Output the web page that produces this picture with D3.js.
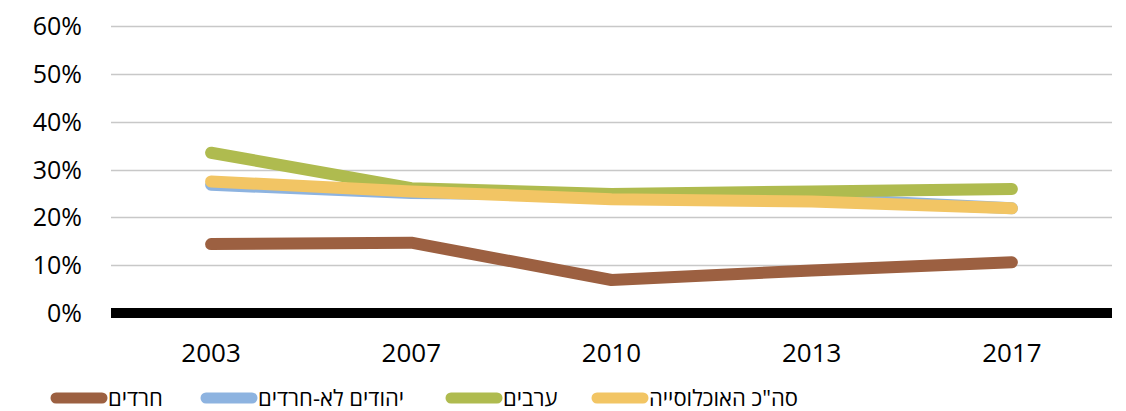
<!DOCTYPE html>
<html>
<head>
<meta charset="utf-8">
<script src="https://cdn.jsdelivr.net/npm/d3@7"></script>
<style>
  body { margin: 0; background: #fff; }
  text { font-family: "Open Sans", sans-serif; fill: #000; }
</style>
</head>
<body>
<div class="chart"></div>
<script>
// years on the x axis
const years = ["2003", "2007", "2010", "2013", "2017"];

// share per group (percent)
const haredim = [14.4, 14.7, 6.9, 8.9, 10.6];
const jewsNonHaredi = [26.8, 25.1, 24.7, 24.0, 21.9];
const arabs = [33.5, 26.1, 24.9, 25.4, 25.9];
const total = [27.5, 25.4, 23.8, 23.3, 21.9];

const seriesNames = ["חרדים", "יהודים לא-חרדים", "ערבים", "סה\"כ האוכלוסייה"];
const yTicks = [0, 10, 20, 30, 40, 50, 60];

// set size of the chart
const w = 1126, h = 411;
const margin = { top: 26, right: 14, bottom: 98, left: 111 };

const svg = d3.select("div.chart")
    .append("svg")
    .attr("width", w)
    .attr("height", h);

const x = d3.scaleBand()
    .domain(years)
    .range([margin.left, w - margin.right]);

const y = d3.scaleLinear()
    .domain([0, 60])
    .range([h - margin.bottom, margin.top]);

// grid lines
svg.selectAll("line.grid")
    .data(yTicks.filter(d => d > 0))
    .enter()
    .append("line")
    .attr("class", "grid")
    .attr("x1", margin.left)
    .attr("x2", w - margin.right)
    .attr("y1", d => Math.round(y(d)) + 0.5)
    .attr("y2", d => Math.round(y(d)) + 0.5)
    .style("stroke", "#c8c8c8")
    .style("stroke-width", 1.3);

// y labels
svg.selectAll("text.ylab")
    .data(yTicks)
    .enter()
    .append("text")
    .attr("class", "ylab")
    .attr("x", 82)
    .attr("y", d => y(d) + 9)
    .attr("text-anchor", "end")
    .attr("font-size", "25px")
    .text(d => d + "%");

// x labels
svg.selectAll("text.xlab")
    .data(years)
    .enter()
    .append("text")
    .attr("class", "xlab")
    .attr("x", d => x(d) + x.bandwidth() / 2)
    .attr("y", 362)
    .attr("text-anchor", "middle")
    .attr("font-size", "26px")
    .text(d => d);

// thick zero line
svg.append("line")
    .attr("x1", margin.left)
    .attr("x2", w - margin.right)
    .attr("y1", y(0))
    .attr("y2", y(0))
    .style("stroke", "#000")
    .style("stroke-width", 10);

const series = [
    { name: seriesNames[0], values: haredim, color: "#9c6041" },
    { name: seriesNames[1], values: jewsNonHaredi, color: "#8db3e0" },
    { name: seriesNames[2], values: arabs, color: "#afbb4f" },
    { name: seriesNames[3], values: total, color: "#f2c564" }
];

const line = d3.line()
    .x((d, i) => x(years[i]) + x.bandwidth() / 2)
    .y(d => y(d));

svg.selectAll("path.series")
    .data(series)
    .enter()
    .append("path")
    .attr("class", "series")
    .attr("d", d => line(d.values))
    .style("fill", "none")
    .style("stroke", d => d.color)
    .style("stroke-width", 12)
    .style("stroke-linecap", "round")
    .style("stroke-linejoin", "round");

// legend
const legendX = [50, 200, 445, 591];
const leg = svg.selectAll("g.legend")
    .data(series)
    .enter()
    .append("g")
    .attr("class", "legend")
    .attr("transform", (d, i) => "translate(" + legendX[i] + ",398)");

leg.append("line")
    .attr("x1", 6)
    .attr("x2", 52)
    .style("stroke", d => d.color)
    .style("stroke-width", 11)
    .style("stroke-linecap", "round");

leg.append("text")
    .attr("x", 58)
    .attr("y", 8)
    .attr("font-size", "22px")
    .text(d => d.name);
</script>
</body>
</html>
